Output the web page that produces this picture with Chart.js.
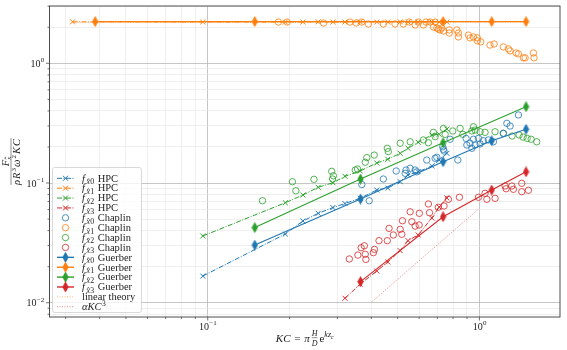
<!DOCTYPE html>
<html>
<head>
<meta charset="utf-8">
<script src="https://cdn.jsdelivr.net/npm/chart.js@4.4.0/dist/chart.umd.min.js"></script>
<style>
  body { margin: 0; background: #fff; }
  canvas { display: block; }
</style>
</head>
<body>
<canvas id="myChart" width="567" height="350"></canvas>
<script>
// HPC simulations (same KC for every mode, null = no point)
const hpcKC = [0.0318, 0.0959, 0.193, 0.224, 0.255, 0.289, 0.320, 0.364, 0.419, 0.460, 0.511, 0.546, 0.595, 0.668, 0.711, 0.759];
const hpcF0 = [null, 0.0167, 0.0375, 0.0481, 0.0558, 0.0624, 0.0674, 0.0745, 0.0874, 0.0908, 0.1025, 0.1167, 0.1243, 0.1387, 0.1556, 0.177];
const hpcF1 = [2.22, 2.21, 2.21, 2.21, 2.22, 2.21, 2.21, 2.22, 2.21, 2.21, 2.22, 2.21, 2.21, 2.22, 2.21, 2.21];
const hpcF2 = [null, 0.0361, 0.0684, 0.0794, 0.0921, 0.1006, 0.1138, 0.126, 0.1469, 0.1578, 0.177, 0.195, 0.2188, 0.2518, 0.2552, 0.2825];
const hpcF3 = [null, null, null, null, null, null, 0.0109, 0.0143, 0.0184, 0.0219, 0.0272, 0.0330, 0.0368, 0.0510, 0.0630, 0.0749];

// Chaplin experiments
const chaplinKC0 = [0.369, 0.393, 0.443, 0.494, 0.533, 0.537, 0.556, 0.580, 0.588, 0.640, 0.687, 0.697, 0.733, 0.737, 0.741, 0.780, 0.833, 0.893, 0.899, 0.924, 0.938, 0.951, 0.964, 0.992, 1.006, 1.034, 1.079, 1.126, 1.225, 1.262, 1.297, 1.392];
const chaplinF0 = [0.0971, 0.0711, 0.108, 0.126, 0.1205, 0.1284, 0.1327, 0.1284, 0.124, 0.1556, 0.1608, 0.164, 0.201, 0.191, 0.185, 0.232, 0.1556, 0.236, 0.2077, 0.215, 0.195, 0.232, 0.2077, 0.236, 0.212, 0.2256, 0.229, 0.221, 0.260, 0.315, 0.299, 0.370];
const chaplinKC1 = [0.182, 0.196, 0.267, 0.334, 0.352, 0.369, 0.390, 0.443, 0.489, 0.525, 0.552, 0.580, 0.596, 0.622, 0.636, 0.658, 0.677, 0.687, 0.697, 0.706, 0.717, 0.727, 0.737, 0.775, 0.775, 0.826, 0.837, 0.837, 0.911, 0.924, 0.951, 0.983, 0.983, 1.012, 1.094, 1.133, 1.225, 1.279, 1.297, 1.365, 1.392, 1.452, 1.473, 1.580, 1.589];
const chaplinF1 = [2.21, 2.21, 2.17, 2.21, 2.17, 2.21, 2.13, 2.13, 2.13, 2.13, 2.21, 2.09, 2.21, 2.09, 2.21, 2.21, 2.01, 2.21, 1.97, 1.93, 1.90, 1.97, 1.86, 1.79, 1.90, 1.90, 1.79, 1.66, 1.72, 1.63, 1.66, 1.63, 1.54, 1.51, 1.42, 1.45, 1.37, 1.32, 1.27, 1.22, 1.20, 1.11, 1.11, 1.22, 1.11];
const chaplinKC2 = [0.159, 0.205, 0.211, 0.246, 0.286, 0.288, 0.290, 0.349, 0.356, 0.380, 0.385, 0.410, 0.458, 0.462, 0.511, 0.556, 0.622, 0.649, 0.677, 0.687, 0.737, 0.748, 0.798, 0.849, 0.869, 0.938, 0.951, 0.964, 1.006, 1.049, 1.142, 1.225, 1.319, 1.400, 1.448, 1.499, 1.550, 1.626];
const chaplinF2 = [0.0711, 0.1025, 0.0862, 0.1074, 0.1253, 0.108, 0.115, 0.1284, 0.131, 0.149, 0.163, 0.171, 0.195, 0.183, 0.215, 0.221, 0.229, 0.217, 0.265, 0.244, 0.286, 0.255, 0.272, 0.286, 0.255, 0.272, 0.295, 0.277, 0.268, 0.265, 0.268, 0.260, 0.247, 0.252, 0.242, 0.236, 0.232, 0.221];
const chaplinKC3 = [0.332, 0.357, 0.367, 0.377, 0.380, 0.382, 0.407, 0.411, 0.427, 0.458, 0.465, 0.482, 0.511, 0.518, 0.521, 0.556, 0.564, 0.580, 0.601, 0.600, 0.649, 0.655, 0.706, 0.741, 0.769, 0.844, 0.992, 1.049, 1.065, 1.142, 1.243, 1.254, 1.316, 1.334, 1.432, 1.432, 1.515];
const chaplinF3 = [0.0232, 0.0250, 0.0288, 0.0299, 0.0254, 0.0230, 0.0262, 0.0279, 0.0330, 0.0330, 0.0418, 0.0368, 0.0410, 0.0373, 0.0484, 0.0575, 0.0475, 0.0437, 0.0558, 0.0446, 0.0668, 0.0565, 0.0627, 0.0643, 0.0731, 0.0760, 0.0760, 0.0820, 0.0731, 0.0745, 0.0944, 0.0896, 0.0944, 0.0886, 0.0994, 0.0846, 0.0869];

// Guerber
const guerberKC = [0.0385, 0.149, 0.365, 0.735, 1.11, 1.485];
const guerberF0 = [null, 0.0303, 0.0735, 0.1507, 0.2256, 0.281];
const guerberF1 = [2.23, 2.23, null, 2.23, 2.23, 2.23];
const guerberF2 = [null, 0.0424, 0.108, 0.217, null, 0.434];
const guerberF3 = [null, null, 0.0150, 0.0523, 0.0874, 0.124];

// reference lines
const linearKC = [0.0318, 1.485];
const linearF = [2.2, 2.2];
const alphaKC = [0.402, 1.0];
const alphaF = [0.0102, 0.0615];

// axes
const xRange = [0.02615, 1.98];
const yRange = [0.0076, 3.01];
const xTickExp = [-1, 0];
const yTickExp = [-2, -1, 0];

const COLORS = ['#1f77b4', '#ff7f0e', '#2ca02c', '#d62728'];
const FONT = '"Liberation Serif", "DejaVu Serif", serif';
const LEG = 10.5;

const pts = (xs, ys) => xs.map((x, i) => ({ x: x, y: ys[i] })).filter(p => p.y != null);

function diamond(color) {
  const c = document.createElement('canvas');
  c.width = 7; c.height = 11;
  const g = c.getContext('2d');
  g.fillStyle = color; g.strokeStyle = color; g.lineWidth = 0.8;
  g.beginPath();
  g.moveTo(3.5, 0.6); g.lineTo(6.2, 5.5); g.lineTo(3.5, 10.4); g.lineTo(0.8, 5.5);
  g.closePath(); g.fill(); g.stroke();
  return c;
}

const hpcF = [hpcF0, hpcF1, hpcF2, hpcF3];
const chaplin = [[chaplinKC0, chaplinF0], [chaplinKC1, chaplinF1], [chaplinKC2, chaplinF2], [chaplinKC3, chaplinF3]];
const guerberF = [guerberF0, guerberF1, guerberF2, guerberF3];

const datasets = [];
hpcF.forEach((ys, i) => datasets.push({
  label: 'f x' + i + ' HPC', sym: 'cross', sub: i, name: 'HPC',
  data: pts(hpcKC, ys), showLine: true,
  borderColor: COLORS[i], backgroundColor: COLORS[i], borderWidth: 1,
  borderDash: [5, 1.5, 1, 1.5],
  pointStyle: 'crossRot', pointRadius: 3.5, pointBorderWidth: 1, order: 3
}));
chaplin.forEach((s, i) => datasets.push({
  label: 'f x' + i + ' Chaplin', sym: 'circle', sub: i, name: 'Chaplin',
  data: pts(s[0], s[1]), showLine: false,
  borderColor: COLORS[i], backgroundColor: 'rgba(0,0,0,0)',
  pointStyle: 'circle', pointRadius: 3.2, pointBorderWidth: 0.8, order: 2
}));
guerberF.forEach((ys, i) => datasets.push({
  label: 'f x' + i + ' Guerber', sym: 'diamond', sub: i, name: 'Guerber',
  data: pts(guerberKC, ys), showLine: true,
  borderColor: COLORS[i], backgroundColor: COLORS[i], borderWidth: 1.1,
  pointStyle: diamond(COLORS[i]), pointRadius: 4, order: 1
}));
datasets.push({
  label: 'linear theory', sym: 'none', data: pts(linearKC, linearF), showLine: true,
  borderColor: 'rgba(255,127,14,0.7)', borderWidth: 0.8, borderDash: [1, 1.5], pointRadius: 0, order: 4
});
datasets.push({
  label: 'alpha KC^3', sym: 'none', data: pts(alphaKC, alphaF), showLine: true,
  borderColor: 'rgba(214,39,40,0.7)', borderWidth: 0.8, borderDash: [1, 1.5], pointRadius: 0, order: 4
});

const isMajor = v => Math.abs(Math.log10(v) - Math.round(Math.log10(v))) < 1e-6;

function logTicks(scale) {
  const t = [];
  for (let e = Math.floor(Math.log10(scale.min)); e <= Math.ceil(Math.log10(scale.max)); e++) {
    for (let m = 1; m <= 9; m++) {
      const v = m * Math.pow(10, e);
      if (v >= scale.min && v <= scale.max) t.push({ value: v });
    }
  }
  scale.ticks = t;
}

const gridOpts = {
  color: c => isMajor(c.tick.value) ? '#b8b8b8' : '#e4e4e4',
  lineWidth: c => isMajor(c.tick.value) ? 0.8 : 0.6,
  drawTicks: false
};

// text helper
function txt(ctx, s, x, y, size, italic) {
  ctx.font = (italic ? 'italic ' : '') + size + 'px ' + FONT;
  ctx.fillText(s, x, y);
  return x + ctx.measureText(s).width;
}
function txtW(ctx, s, size, italic) {
  ctx.font = (italic ? 'italic ' : '') + size + 'px ' + FONT;
  return ctx.measureText(s).width;
}
function pow10(ctx, e, x, y, align) {
  const a = txtW(ctx, '10', 10), b = txtW(ctx, e < 0 ? '\u2212' + (-e) : '' + e, 7);
  let x0 = align === 'right' ? x - a - b : x - (a + b) / 2;
  x0 = txt(ctx, '10', x0, y, 10, false);
  txt(ctx, e < 0 ? '\u2212' + (-e) : '' + e, x0 + 0.3, y - 4.5, 7, false);
}
function hat(ctx, x, y, w) {
  ctx.beginPath();
  ctx.moveTo(x + w * 0.2, y); ctx.lineTo(x + w * 0.55, y - 1.6); ctx.lineTo(x + w * 0.9, y);
  ctx.lineWidth = 0.6; ctx.stroke();
}
// f_{x^i}
function fLabel(ctx, x, y, i, size) {
  const s = size * 0.75;
  let p = txt(ctx, 'f', x, y, size, true) + 1.5;
  const w = txtW(ctx, 'x', s, true);
  txt(ctx, 'x', p, y + 2.5, s, true);
  hat(ctx, p, y + 2.5 - s * 0.5, w);
  p = txt(ctx, '' + i, p + w + 0.3, y + 2.5, s, false);
  return p;
}

function drawMarker(ctx, sym, color, cx, cy) {
  ctx.strokeStyle = color; ctx.fillStyle = color; ctx.setLineDash([]);
  if (sym === 'cross') {
    ctx.lineWidth = 1; ctx.beginPath();
    ctx.moveTo(cx - 2.5, cy - 2.5); ctx.lineTo(cx + 2.5, cy + 2.5);
    ctx.moveTo(cx - 2.5, cy + 2.5); ctx.lineTo(cx + 2.5, cy - 2.5); ctx.stroke();
  } else if (sym === 'circle') {
    ctx.lineWidth = 0.8; ctx.beginPath(); ctx.arc(cx, cy, 3.2, 0, Math.PI * 2); ctx.stroke();
  } else if (sym === 'diamond') {
    ctx.drawImage(diamond(color), cx - 3.5, cy - 5.5);
  }
}

const decor = {
  id: 'decor',
  afterDraw(chart) {
    const ctx = chart.ctx, a = chart.chartArea;
    const xs = chart.scales.x, ys = chart.scales.y;
    ctx.save();
    // frame
    ctx.strokeStyle = '#3a3a3a'; ctx.lineWidth = 0.9;
    ctx.strokeRect(a.left, a.top, a.right - a.left, a.bottom - a.top);
    // tick marks
    ctx.strokeStyle = '#3a3a3a'; ctx.lineWidth = 0.7;
    ctx.beginPath();
    xs.ticks.forEach(t => {
      const p = xs.getPixelForValue(t.value), l = isMajor(t.value) ? 3.5 : 2;
      ctx.moveTo(p, a.bottom); ctx.lineTo(p, a.bottom + l);
    });
    ys.ticks.forEach(t => {
      const p = ys.getPixelForValue(t.value), l = isMajor(t.value) ? 3.5 : 2;
      ctx.moveTo(a.left, p); ctx.lineTo(a.left - l, p);
    });
    ctx.stroke();
    // tick labels
    ctx.fillStyle = '#222'; ctx.textBaseline = 'alphabetic';
    xTickExp.forEach(e => pow10(ctx, e, xs.getPixelForValue(Math.pow(10, e)), a.bottom + 12.5, 'center'));
    yTickExp.forEach(e => pow10(ctx, e, a.left - 5.5, ys.getPixelForValue(Math.pow(10, e)) + 3.5, 'right'));

    // x title: KC = pi H/D e^{k z_c}
    ctx.fillStyle = '#222'; ctx.strokeStyle = '#222';
    const T = 11;
    const w1 = txtW(ctx, 'KC', T, true) + txtW(ctx, ' = ', T) + 2 + txtW(ctx, '\u03c0', T, true);
    const wf = txtW(ctx, 'D', 8, true);
    const we = txtW(ctx, 'e', T) + txtW(ctx, 'kz', 8, true) + txtW(ctx, 'c', 6, true);
    let x = (a.left + a.right) / 2 - (w1 + wf + we + 4) / 2;
    const by = 341.5;
    x = txt(ctx, 'KC', x, by, T, true) + 1;
    x = txt(ctx, ' = ', x, by, T, false) + 1;
    x = txt(ctx, '\u03c0', x, by, T, true) + 2;
    txt(ctx, 'H', x, by - 5.5, 8, true);
    txt(ctx, 'D', x, by + 4, 8, true);
    ctx.lineWidth = 0.5; ctx.beginPath(); ctx.moveTo(x, by - 3.8); ctx.lineTo(x + wf, by - 3.8); ctx.stroke();
    x += wf + 2;
    x = txt(ctx, 'e', x, by, T, false);
    x = txt(ctx, 'kz', x, by - 4.5, 8, true);
    txt(ctx, 'c', x, by - 3, 6, true);

    // y title: F_x / (rho R^3 omega^2 KC)
    ctx.save();
    ctx.translate(11, (a.top + a.bottom) / 2);
    ctx.rotate(-Math.PI / 2);
    const den = [['\u03c1', 10.5, true, 0], ['R', 10.5, true, 0], ['3', 7, false, -4], ['\u03c9', 10.5, true, 0], ['2', 7, false, -4], ['K', 10.5, true, 0], ['C', 10.5, true, 0]];
    const dw = den.reduce((s, d) => s + txtW(ctx, d[0], d[1], d[2]) + 1, 0);
    let dx = -dw / 2;
    den.forEach(d => { dx = txt(ctx, d[0], dx, 8.5 + d[3], d[1], d[2]) + 1; });
    ctx.lineWidth = 0.5; ctx.beginPath(); ctx.moveTo(-dw / 2, 0); ctx.lineTo(dw / 2, 0); ctx.stroke();
    const nw = txtW(ctx, 'F', 10.5, true) + txtW(ctx, 'x', 7, true);
    let nx = txt(ctx, 'F', -nw / 2, -2.2, 10.5, true);
    txt(ctx, 'x', nx, -0.3, 7, true);
    hat(ctx, nx, -4.8, txtW(ctx, 'x', 7, true));
    ctx.restore();

    // legend
    const L = { x: 52.5, y: 167.5, w: 89, h: 145 };
    ctx.fillStyle = 'rgba(255,255,255,0.8)';
    ctx.strokeStyle = '#cfcfcf'; ctx.lineWidth = 0.8;
    ctx.beginPath(); ctx.roundRect(L.x, L.y, L.w, L.h, 2); ctx.fill(); ctx.stroke();
    chart.data.datasets.forEach((d, k) => {
      const cy = 178.3 + k * 9.88;
      const col = d.borderColor;
      if (d.showLine && d.sym !== 'circle') {
        ctx.strokeStyle = col; ctx.lineWidth = d.sym === 'diamond' ? 1.4 : (d.borderWidth || 1);
        ctx.setLineDash(d.borderDash || []);
        ctx.beginPath(); ctx.moveTo(57, cy); ctx.lineTo(74, cy); ctx.stroke();
        ctx.setLineDash([]);
      }
      drawMarker(ctx, d.sym, col, 65.5, cy);
      ctx.fillStyle = '#222'; ctx.strokeStyle = '#222';
      const by = cy + 3.3;
      if (d.sym !== 'none') {
        const p = fLabel(ctx, 82, by, d.sub, LEG);
        txt(ctx, d.name, p + 3.5, by, LEG, false);
      } else if (k === chart.data.datasets.length - 2) {
        txt(ctx, 'linear theory', 82, by, LEG, false);
      } else {
        let p = txt(ctx, '\u03b1KC', 82, by, LEG, true);
        txt(ctx, '3', p + 0.5, by - 4, 7.5, false);
      }
    });
    ctx.restore();
  }
};

let myChart = document.getElementById('myChart').getContext('2d');
new Chart(myChart, {
  type: 'scatter',
  data: { datasets: datasets },
  options: {
    responsive: false,
    animation: false,
    layout: { padding: { left: 0, right: 7, top: 6, bottom: 0 } },
    plugins: { legend: { display: false }, tooltip: { enabled: false } },
    scales: {
      x: {
        type: 'logarithmic', min: xRange[0], max: xRange[1],
        afterBuildTicks: logTicks,
        afterFit: s => { s.height = 33; },
        ticks: { display: false },
        grid: gridOpts,
        border: { display: false }
      },
      y: {
        type: 'logarithmic', min: yRange[0], max: yRange[1],
        afterBuildTicks: logTicks,
        afterFit: s => { s.width = 49.5; },
        ticks: { display: false },
        grid: gridOpts,
        border: { display: false }
      }
    }
  },
  plugins: [decor]
});
</script>
</body>
</html>
